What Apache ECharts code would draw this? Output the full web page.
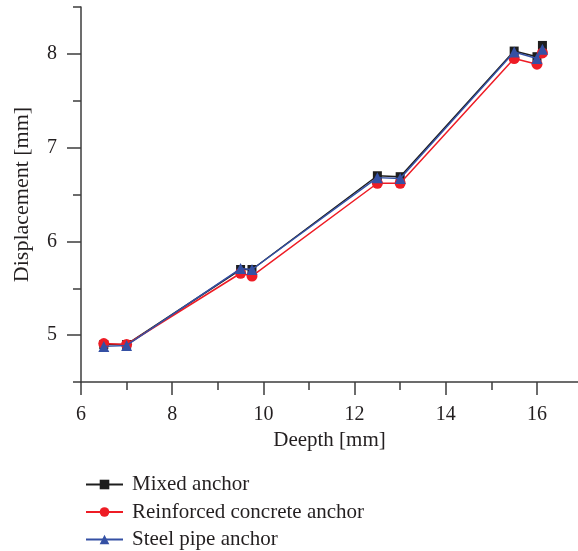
<!DOCTYPE html>
<html>
<head>
<meta charset="utf-8">
<script src="https://cdn.jsdelivr.net/npm/echarts@6/dist/echarts.min.js"></script>
<style>
html,body{margin:0;padding:0;background:#fff;}
#chart{width:578px;height:551px;}
</style>
</head>
<body>
<div id="chart"></div>
<script>
// Data
var seriesNames = ['Mixed anchor', 'Reinforced concrete anchor', 'Steel pipe anchor'];
var depth = [6.5, 7, 9.5, 9.75, 12.5, 13, 15.5, 16, 16.12];
var mixedAnchor = [4.90, 4.90, 5.70, 5.70, 6.70, 6.69, 8.03, 7.97, 8.09];
var concreteAnchor = [4.91, 4.90, 5.66, 5.63, 6.62, 6.62, 7.95, 7.89, 8.01];
var steelAnchor = [4.88, 4.89, 5.71, 5.70, 6.68, 6.67, 8.02, 7.95, 8.05];
var xMajorTicks = [6, 8, 10, 12, 14, 16];
var xMinorTicks = [7, 9, 11, 13, 15];
var yMajorTicks = [5, 6, 7, 8];
var yMinorTicks = [4.5, 5.5, 6.5, 7.5, 8.5];

function pairs(xs, ys) { return xs.map(function (x, i) { return [x, ys[i]]; }); }

var FONT = 'Liberation Serif';
var TXT = '#231f20';
var AX = '#3c3c3c';

var grid = { left: 81, right: 0, top: 7, bottom: 169 };
var xRange = { min: 6, max: 16.9 };
var yRange = { min: 4.5, max: 8.5 };

var chart = echarts.init(document.getElementById('chart'));
chart.setOption({
  backgroundColor: '#fff',
  animation: false,
  textStyle: { fontFamily: FONT },
  grid: grid,
  legend: {
    orient: 'vertical',
    left: 80,
    top: 469,
    height: 100,
    itemWidth: 37,
    itemHeight: 12,
    itemGap: 6.5,
    textStyle: { fontFamily: FONT, fontSize: 21, color: TXT, padding: [0, 0, 0, 4] },
    data: seriesNames
  },
  xAxis: [{
    type: 'value', min: xRange.min, max: xRange.max,
    name: 'Deepth [mm]', nameLocation: 'middle', nameGap: 47,
    nameTextStyle: { fontFamily: FONT, fontSize: 21, color: TXT },
    axisLine: { show: true, onZero: false, lineStyle: { color: AX, width: 1.5 } },
    axisTick: { show: true, inside: false, length: 13, customValues: xMajorTicks, lineStyle: { color: AX, width: 1.5 } },
    axisLabel: { show: true, margin: 23, customValues: xMajorTicks, fontFamily: FONT, fontSize: 20, color: TXT },
    splitLine: { show: false }
  }, {
    type: 'value', min: xRange.min, max: xRange.max, position: 'bottom',
    axisLine: { show: false, onZero: false },
    axisTick: { show: true, inside: false, length: 8, customValues: xMinorTicks, lineStyle: { color: AX, width: 1.5 } },
    axisLabel: { show: false },
    splitLine: { show: false }
  }],
  yAxis: [{
    type: 'value', min: yRange.min, max: yRange.max,
    name: 'Displacement [mm]', nameLocation: 'middle', nameGap: 48,
    nameTextStyle: { fontFamily: FONT, fontSize: 22, color: TXT },
    axisLine: { show: true, onZero: false, lineStyle: { color: AX, width: 1.5 } },
    axisTick: { show: true, inside: false, length: 14, customValues: yMajorTicks, lineStyle: { color: AX, width: 1.5 } },
    axisLabel: { show: true, margin: 24, customValues: yMajorTicks, fontFamily: FONT, fontSize: 20, color: TXT },
    splitLine: { show: false }
  }, {
    type: 'value', min: yRange.min, max: yRange.max, position: 'left',
    axisLine: { show: false, onZero: false },
    axisTick: { show: true, inside: false, length: 8, customValues: yMinorTicks, lineStyle: { color: AX, width: 1.5 } },
    axisLabel: { show: false },
    splitLine: { show: false }
  }],
  series: [{
    name: seriesNames[0], type: 'line', data: pairs(depth, mixedAnchor),
    symbol: 'rect', symbolSize: 9,
    itemStyle: { color: '#1e1e1e' }, lineStyle: { color: '#1e1e1e', width: 1.5 },
    z: 2
  }, {
    name: seriesNames[1], type: 'line', data: pairs(depth, concreteAnchor),
    symbol: 'circle', symbolSize: 11,
    itemStyle: { color: '#ee1c25' }, lineStyle: { color: '#ee1c25', width: 1.5 },
    z: 3
  }, {
    name: seriesNames[2], type: 'line', data: pairs(depth, steelAnchor),
    symbol: 'triangle', symbolSize: 11,
    itemStyle: { color: '#3450a4' }, lineStyle: { color: '#3450a4', width: 1.5 },
    z: 4
  }]
});
</script>
</body>
</html>
